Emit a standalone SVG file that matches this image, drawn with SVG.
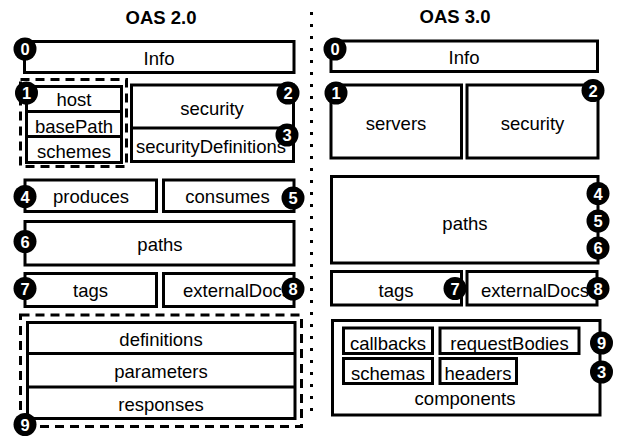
<svg xmlns="http://www.w3.org/2000/svg" width="623" height="437" viewBox="0 0 623 437">
<style>
  .box { fill: #fff; stroke: #000; stroke-width: 3; }
  .div { stroke: #000; stroke-width: 3; fill: none; }
  .dash { fill: none; stroke: #000; stroke-width: 3; stroke-dasharray: 9 6; }
  .lbl { font-family: "Liberation Sans", Arial, sans-serif; font-size: 18.5px; fill: #000; text-anchor: middle; }
  .title { font-family: "Liberation Sans", Arial, sans-serif; font-size: 18.5px; font-weight: bold; fill: #000; text-anchor: middle; }
  .badge circle { fill: #000; }
  .badge text { font-family: "Liberation Sans", Arial, sans-serif; font-size: 16.5px; font-weight: bold; fill: #fff; text-anchor: middle; }
</style>
<rect width="623" height="437" fill="#fff"/>

<!-- separator -->
<g id="connectors">
  <line x1="311.5" y1="12" x2="311.5" y2="412" stroke="#000" stroke-width="3" stroke-dasharray="3 9"/>
</g>

<text class="title" x="161" y="23.5">OAS 2.0</text>
<text class="title" x="455" y="23">OAS 3.0</text>

<!-- ===== OAS 2.0 ===== -->
<g id="l-info">
  <rect class="box" x="24.5" y="41.5" width="269.5" height="31"/>
  <text class="lbl" x="159" y="64.5">Info</text>
</g>
<g id="l-group1">
  <rect class="dash" x="20.5" y="79.5" width="106" height="87"/>
  <rect class="box" x="26.5" y="86.5" width="95" height="76"/>
  <line class="div" x1="26.5" y1="111.5" x2="121.5" y2="111.5"/>
  <line class="div" x1="26.5" y1="136.5" x2="121.5" y2="136.5"/>
  <text class="lbl" x="74" y="105.5">host</text>
  <text class="lbl" x="74" y="132.5">basePath</text>
  <text class="lbl" x="74" y="158">schemes</text>
</g>
<g id="l-security">
  <rect class="box" x="131.5" y="85" width="162" height="76.5"/>
  <line class="div" x1="131.5" y1="128" x2="293.5" y2="128"/>
  <text class="lbl" x="212" y="114.5">security</text>
  <text class="lbl" x="211" y="153">securityDefinitions</text>
</g>
<g id="l-produces">
  <rect class="box" x="25" y="180" width="131.5" height="31.5"/>
  <text class="lbl" x="91" y="203">produces</text>
</g>
<g id="l-consumes">
  <rect class="box" x="163.5" y="180" width="130.5" height="31.5"/>
  <text class="lbl" x="227.5" y="203">consumes</text>
</g>
<g id="l-paths">
  <rect class="box" x="25" y="221.5" width="269" height="43.5"/>
  <text class="lbl" x="160" y="251">paths</text>
</g>
<g id="l-tags">
  <rect class="box" x="25" y="273.5" width="131.5" height="33"/>
  <text class="lbl" x="90.5" y="296.5">tags</text>
</g>
<g id="l-externalDocs">
  <rect class="box" x="163.5" y="273.5" width="130.5" height="33"/>
  <text class="lbl" x="237" y="296.5">externalDocs</text>
</g>
<g id="l-group9">
  <rect class="dash" x="20.5" y="315" width="281" height="111.5"/>
  <rect class="box" x="27.5" y="322.5" width="267.5" height="96"/>
  <line class="div" x1="27.5" y1="353.5" x2="295" y2="353.5"/>
  <line class="div" x1="27.5" y1="387" x2="295" y2="387"/>
  <text class="lbl" x="161" y="346">definitions</text>
  <text class="lbl" x="161" y="378">parameters</text>
  <text class="lbl" x="161" y="410.5">responses</text>
</g>

<!-- badges left -->
<g class="badge" id="l-badges">
  <g transform="translate(25,49)"><circle r="11.5"/><text y="6">0</text></g>
  <g transform="translate(26.5,93)"><circle r="11.5"/><text y="6">1</text></g>
  <g transform="translate(288,93)"><circle r="11.5"/><text y="6">2</text></g>
  <g transform="translate(287,135)"><circle r="11.5"/><text y="6">3</text></g>
  <g transform="translate(25,196.5)"><circle r="11.5"/><text y="6">4</text></g>
  <g transform="translate(293,198)"><circle r="11.5"/><text y="6">5</text></g>
  <g transform="translate(25,241.5)"><circle r="11.5"/><text y="6">6</text></g>
  <g transform="translate(25,288.5)"><circle r="11.5"/><text y="6">7</text></g>
  <g transform="translate(293,289)"><circle r="11.5"/><text y="6">8</text></g>
  <g transform="translate(25,424.5)"><circle r="11.5"/><text y="6">9</text></g>
</g>

<!-- ===== OAS 3.0 ===== -->
<g id="r-info">
  <rect class="box" x="331" y="41" width="266.5" height="30.5"/>
  <text class="lbl" x="464" y="64">Info</text>
</g>
<g id="r-servers">
  <rect class="box" x="331" y="85" width="130.5" height="73"/>
  <text class="lbl" x="396" y="130">servers</text>
</g>
<g id="r-security">
  <rect class="box" x="467" y="85" width="131" height="73"/>
  <text class="lbl" x="532.5" y="130">security</text>
</g>
<g id="r-paths">
  <rect class="box" x="331.5" y="176.5" width="266.5" height="86.5"/>
  <text class="lbl" x="465" y="230">paths</text>
</g>
<g id="r-tags">
  <rect class="box" x="331.5" y="271.5" width="130" height="33.5"/>
  <text class="lbl" x="396" y="296.5">tags</text>
</g>
<g id="r-externalDocs">
  <rect class="box" x="467" y="271.5" width="130" height="33.5"/>
  <text class="lbl" x="535" y="296.5">externalDocs</text>
</g>
<g id="r-components">
  <rect class="box" x="332.5" y="320.5" width="267.5" height="94.5"/>
  <text class="lbl" x="465" y="405">components</text>
  <g id="r-callbacks">
    <rect class="box" x="343.5" y="328" width="89" height="25.5"/>
    <text class="lbl" x="388" y="349.5">callbacks</text>
  </g>
  <g id="r-requestBodies">
    <rect class="box" x="440" y="328" width="139" height="25.5"/>
    <text class="lbl" x="509.5" y="349.5">requestBodies</text>
  </g>
  <g id="r-schemas">
    <rect class="box" x="343.5" y="358.5" width="89" height="25"/>
    <text class="lbl" x="388" y="380">schemas</text>
  </g>
  <g id="r-headers">
    <rect class="box" x="440" y="358.5" width="76.5" height="25"/>
    <text class="lbl" x="478" y="380">headers</text>
  </g>
</g>

<!-- badges right -->
<g class="badge" id="r-badges">
  <g transform="translate(335,49)"><circle r="11.5"/><text y="6">0</text></g>
  <g transform="translate(336,93)"><circle r="11.5"/><text y="6">1</text></g>
  <g transform="translate(593,90.5)"><circle r="11.5"/><text y="6">2</text></g>
  <g transform="translate(598,193.5)"><circle r="11.5"/><text y="6">4</text></g>
  <g transform="translate(598,221)"><circle r="11.5"/><text y="6">5</text></g>
  <g transform="translate(598,248)"><circle r="11.5"/><text y="6">6</text></g>
  <g transform="translate(455,288.5)"><circle r="11.5"/><text y="6">7</text></g>
  <g transform="translate(598,288.5)"><circle r="11.5"/><text y="6">8</text></g>
  <g transform="translate(601.5,343)"><circle r="11.5"/><text y="6">9</text></g>
  <g transform="translate(601.5,372)"><circle r="11.5"/><text y="6">3</text></g>
</g>
</svg>
